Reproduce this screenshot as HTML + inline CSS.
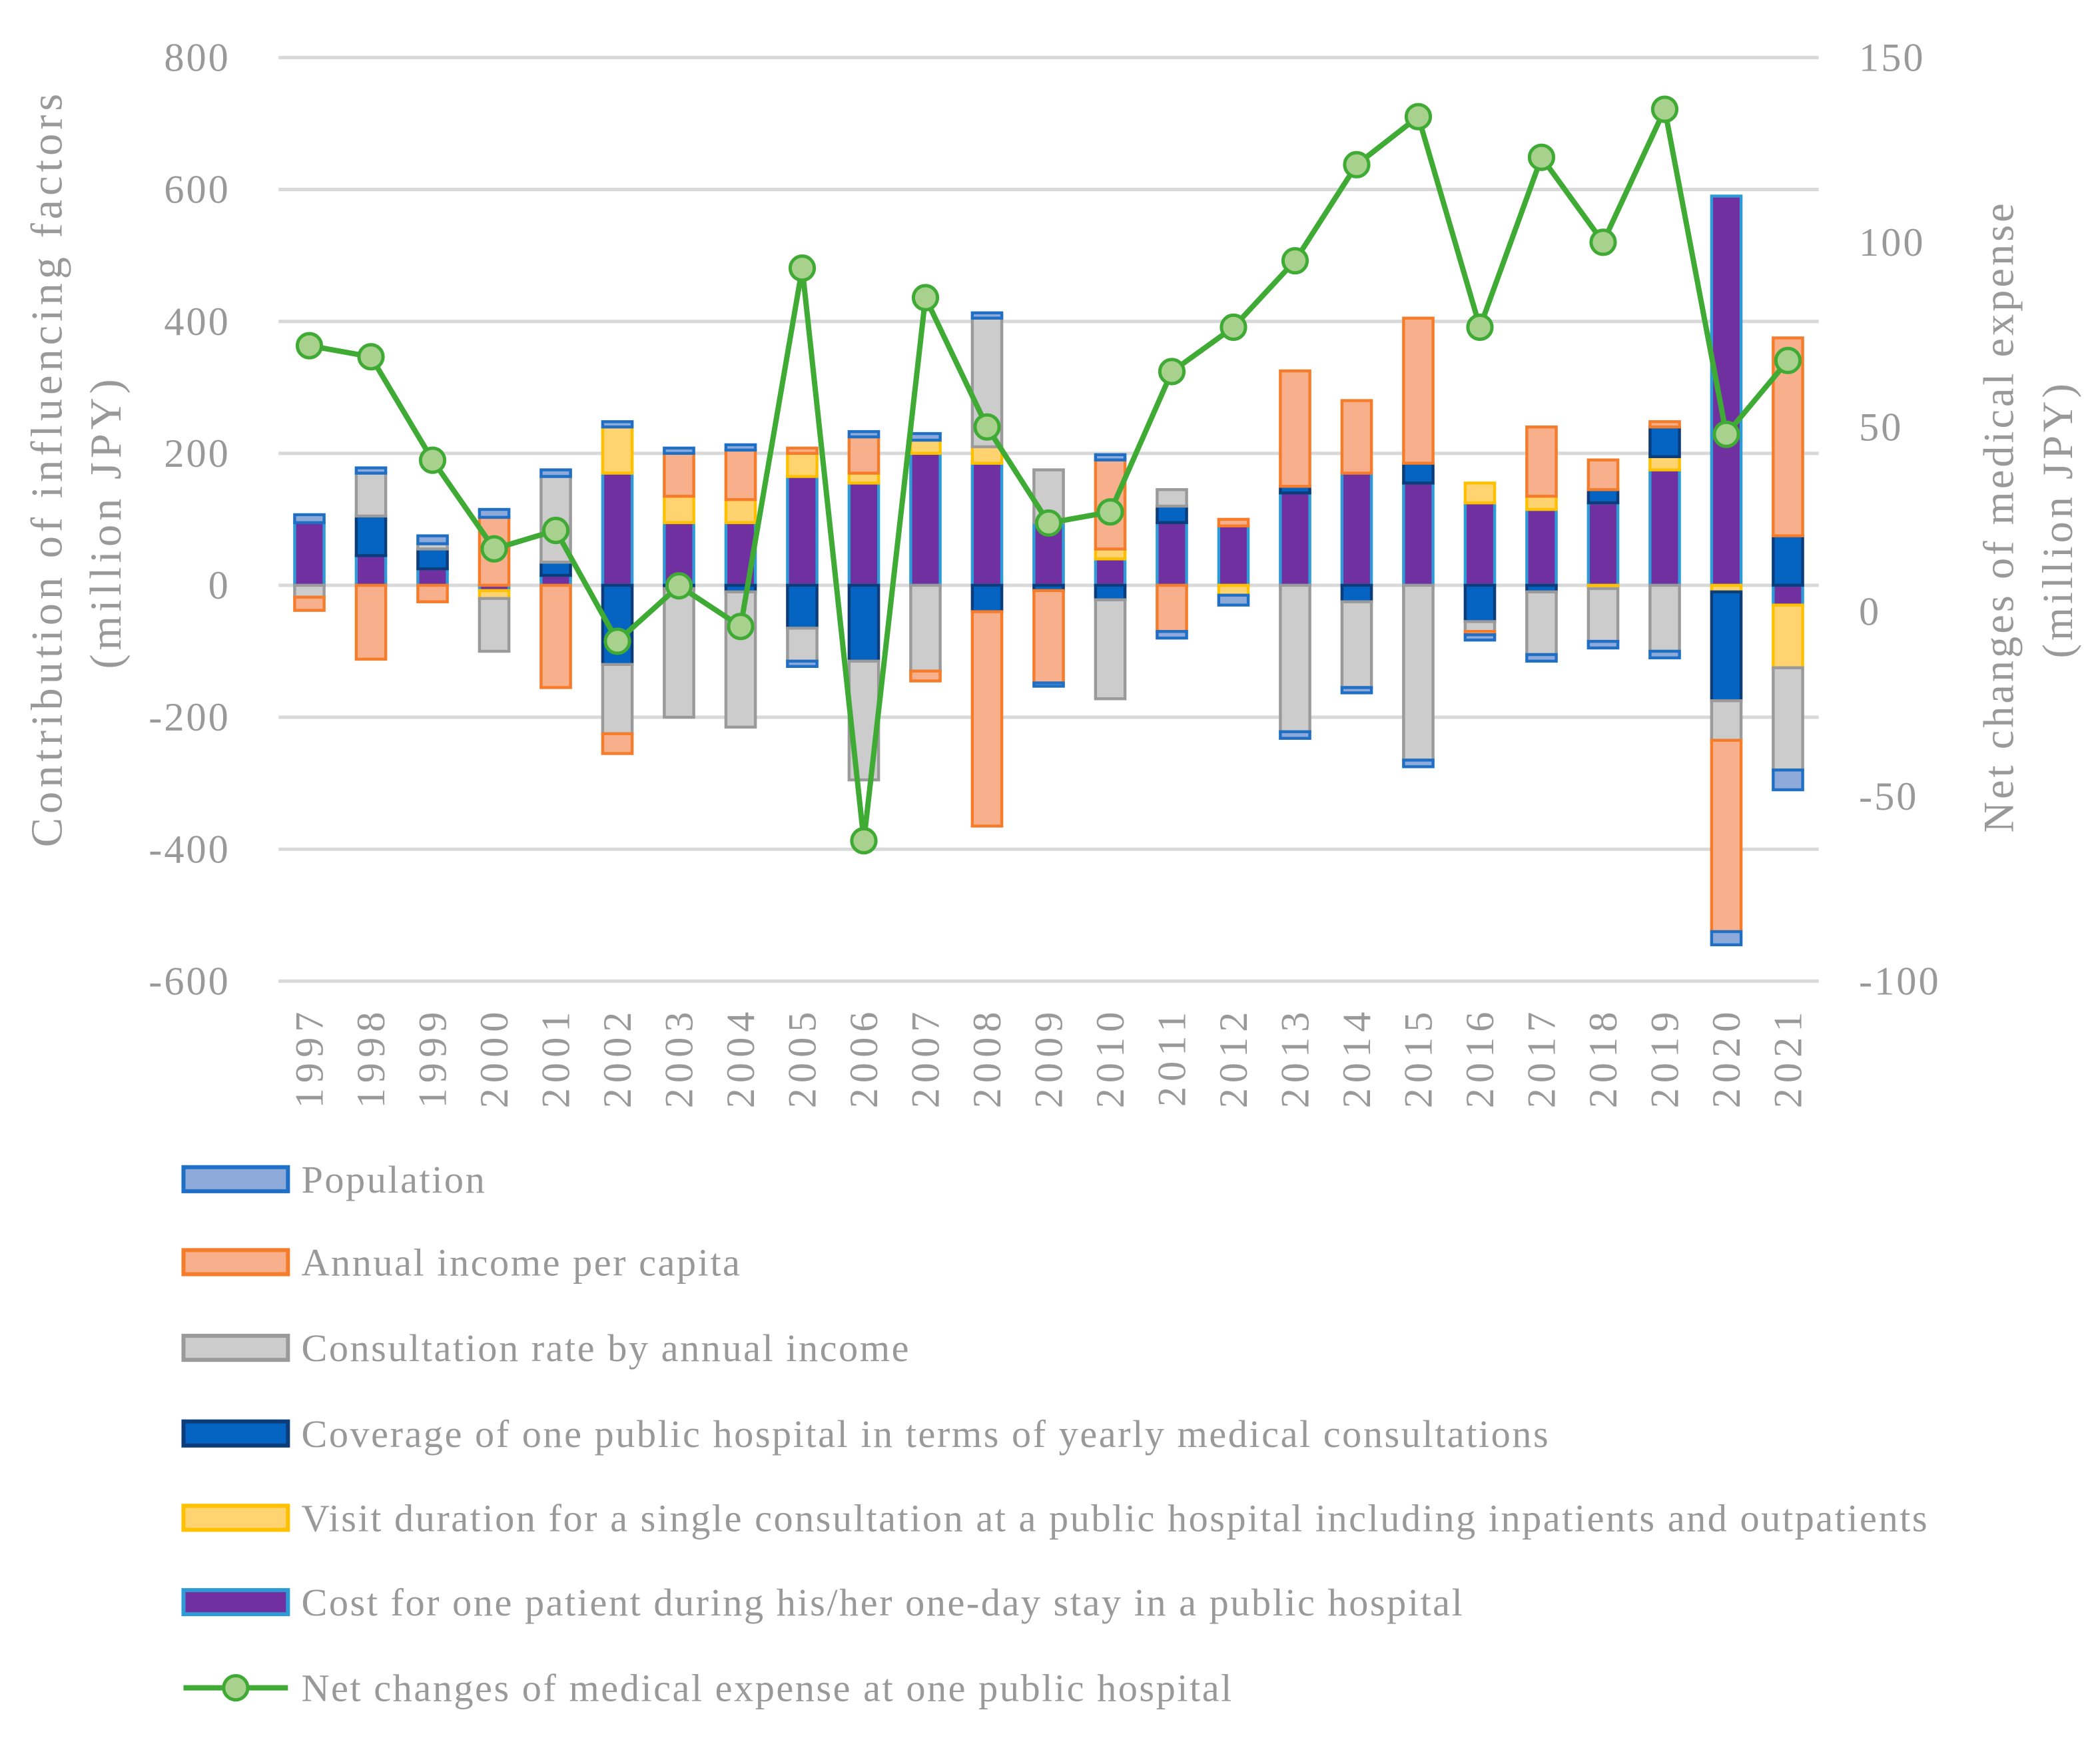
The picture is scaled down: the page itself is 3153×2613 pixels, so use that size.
<!DOCTYPE html>
<html><head><meta charset="utf-8"><style>
html,body{margin:0;padding:0;background:#fff;}
svg{display:block;}
text{font-family:"Liberation Serif",serif;fill:#999999;}
</style></head><body>
<svg id="chart" width="3153" height="2613" viewBox="0 0 1568 1300" preserveAspectRatio="none" xmlns="http://www.w3.org/2000/svg">
<g id="grid"></g><g id="bars"></g><g id="line"></g><g id="axes"></g><g id="legend"></g>
</svg>
<script>
const years=["1997","1998","1999","2000","2001","2002","2003","2004","2005","2006","2007","2008","2009","2010","2011","2012","2013","2014","2015","2016","2017","2018","2019","2020","2021"];
const population=[12,8,12,12,10,8,8,8,-8,8,10,8,-5,8,-10,-15,-10,-8,-10,-8,-10,-10,-10,-20,-30];
const income=[-20,-112,-25,103,-155,-30,65,75,8,55,-15,-325,-140,135,-70,10,175,110,220,-5,105,45,8,-290,300];
const consultation=[-18,65,8,-80,130,-105,-195,-205,-50,-180,-130,195,80,-150,25,0,-222,-130,-265,-15,-95,-80,-100,-60,-155];
const coverage=[0,60,30,0,20,-120,-5,-10,-65,-115,0,-40,-8,-22,25,0,10,-25,30,-55,-10,20,45,-165,75];
const visit=[0,0,0,-12,0,70,40,35,35,15,20,25,0,15,0,-15,0,0,0,30,20,-5,20,-10,-95];
const cost=[95,45,25,-8,15,170,95,95,165,155,200,185,95,40,95,90,140,170,155,125,115,125,175,590,-30];
const netChange=[72,69,41,17,22,-8,7,-4,93,-62,85,50,24,27,65,77,95,121,134,77,123,100,136,48,68];
const leftTicks=[800,600,400,200,0,-200,-400,-600];
const rightTicks=[150,100,50,0,-50,-100];
const seriesNames=["Population","Annual income per capita","Consultation rate by annual income","Coverage of one public hospital in terms of yearly medical consultations","Visit duration for a single consultation at a public hospital including inpatients and outpatients","Cost for one patient during his/her one-day stay in a public hospital"];
const NS="http://www.w3.org/2000/svg";
const X0=208,X1=1358,YT=43,YB=733;
const yL=v=>YB-(v-(-600))/1400*(YB-YT);
const yR=v=>YB-(v-(-100))/250*(YB-YT);
const bw=(X1-X0)/years.length;
const xc=i=>X0+bw*(i+0.5);
function mk(tag,attrs,parent){const e=document.createElementNS(NS,tag);for(const k in attrs)e.setAttribute(k,attrs[k]);parent.appendChild(e);return e;}
const grid=document.getElementById('grid'),axes=document.getElementById('axes'),bars=document.getElementById('bars'),lineG=document.getElementById('line'),leg=document.getElementById('legend');
leftTicks.forEach(t=>{const l=mk('line',{x1:X0,x2:X1,y1:yL(t),y2:yL(t),stroke:'#d9d9d9','stroke-width':2.5},grid);


const tx=mk('text',{x:172,y:yL(t)+10,'text-anchor':'end','font-size':30,'letter-spacing':1.5},axes);tx.textContent=t;

});
rightTicks.forEach(t=>{const tx=mk('text',{x:1388,y:yR(t)+10,'font-size':30,'letter-spacing':1.5},axes);tx.textContent=t;

});
years.forEach((y,i)=>{const tx=mk('text',{x:0,y:0,'text-anchor':'end','font-size':30,'letter-spacing':4,transform:`translate(${xc(i)+10},752) rotate(-90)`},axes);tx.textContent=y;

});
let t1=mk('text',{x:0,y:0,'text-anchor':'middle','font-size':33,'letter-spacing':3,transform:'translate(46,350) rotate(-90)'},axes);t1.textContent='Contribution of influencing factors';


let t2=mk('text',{x:0,y:0,'text-anchor':'middle','font-size':33,'letter-spacing':3,transform:'translate(90,390) rotate(-90)'},axes);t2.textContent='(million JPY)';


let t3=mk('text',{x:0,y:0,'text-anchor':'middle','font-size':32,'letter-spacing':2,transform:'translate(1503,386) rotate(-90)'},axes);t3.textContent='Net changes of medical expense';


let t4=mk('text',{x:0,y:0,'text-anchor':'middle','font-size':32,'letter-spacing':2.5,transform:'translate(1547,388) rotate(-90)'},axes);t4.textContent='(million JPY)';


const styles=[{f:'#8eaadb',s:'#1f6fc5'},{f:'#f8b08c',s:'#f57c2a'},{f:'#cccccc',s:'#9a9a9a'},{f:'#0563c1',s:'#0c3d7a'},{f:'#ffd470',s:'#ffc000'},{f:'#7030a0',s:'#2e9bd6'}];
const data=[population,income,consultation,coverage,visit,cost];
const keys=['population','income','consultation','coverage','visit','cost'];
const order=[5,4,3,2,1,0];
years.forEach((y,i)=>{let pos=0,neg=0;order.forEach(si=>{const v=data[si][i];if(!v)return;let a,b;if(v>0){a=pos;b=pos+v;pos=b;}else{a=neg;b=neg+v;neg=b;}
const top=yL(Math.max(a,b)),bot=yL(Math.min(a,b));
const r=mk('rect',{x:xc(i)-11,y:top,width:22,height:Math.max(bot-top,0.5),fill:styles[si].f,stroke:styles[si].s,'stroke-width':2.2},bars);

});});
const pts=netChange.map((v,i)=>xc(i)+','+yR(v)).join(' ');
const pl=mk('polyline',{points:pts,fill:'none',stroke:'#3fab35','stroke-width':4,'stroke-linejoin':'round'},lineG);


netChange.forEach((v,i)=>{const c=mk('circle',{cx:xc(i),cy:yR(v),r:9,fill:'#a9d18e',stroke:'#3fab35','stroke-width':2.5},lineG);

});
const rowsY=[881,943,1007,1071,1134,1197,1261];
seriesNames.forEach((n,si)=>{const g=mk('g',{},leg);


mk('rect',{x:137,y:rowsY[si]-9,width:78,height:18,fill:styles[si].f,stroke:styles[si].s,'stroke-width':3},g);
const t=mk('text',{x:225,y:rowsY[si]+10,'font-size':29,'letter-spacing':1.25},g);t.textContent=n;});
const g=mk('g',{},leg);


mk('line',{x1:137,x2:215,y1:rowsY[6],y2:rowsY[6],stroke:'#3fab35','stroke-width':4},g);
mk('circle',{cx:176,cy:rowsY[6],r:9,fill:'#a9d18e',stroke:'#3fab35','stroke-width':2.5},g);
const tt=mk('text',{x:225,y:rowsY[6]+10,'font-size':29,'letter-spacing':1.25},g);tt.textContent='Net changes of medical expense at one public hospital';
</script>
</body></html>
